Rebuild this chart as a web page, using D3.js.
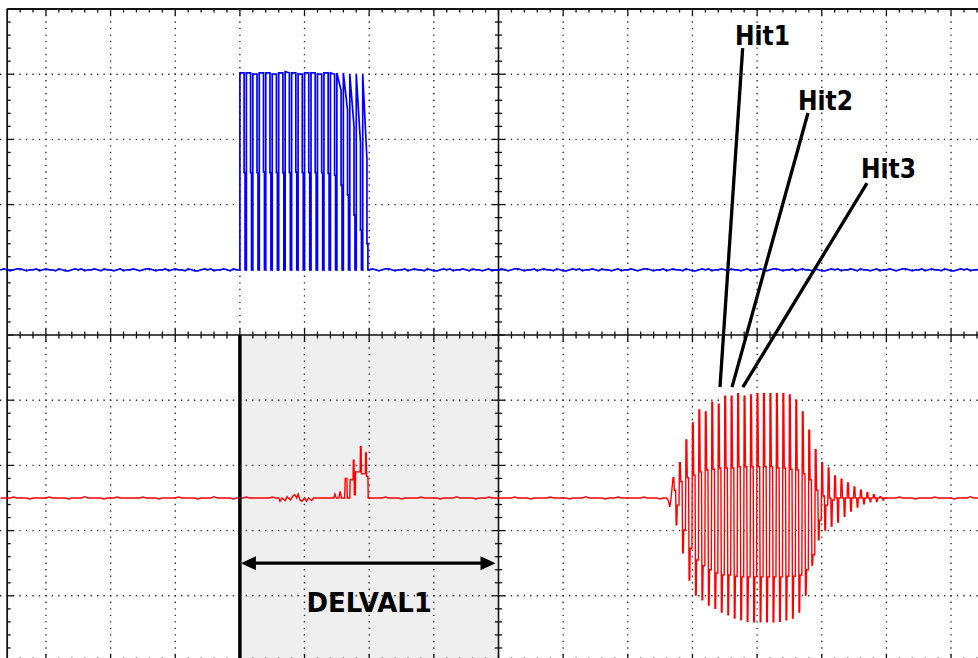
<!DOCTYPE html>
<html>
<head>
<meta charset="utf-8">
<script src="https://cdn.jsdelivr.net/npm/d3@7"></script>
<style>
body { margin: 0; background: #fff; }
</style>
</head>
<body>
<div id="chart"></div>
<script>
// Scope screen, everything in divisions (time horizontally, volts/div vertically)

// --- data

// channel 1 (blue): burst of pulses
var blueOffset = 1.0
var blueBurstStart = -4.0
var pulsePeriod = 0.1
var bluePulseTop  = [3.02, 3.02, 3.0, 3.02, 3.02, 3.0, 3.02, 3.04, 3.02, 3.0, 3.02, 3.02, 3.0, 3.02, 3.02, 3.02, 3.02, 3.0, 3.0, 3.0]
var bluePulseFall = [3.02, 3.02, 3.0, 3.02, 3.02, 3.0, 3.02, 3.02, 3.02, 3.0, 3.02, 3.02, 3.0, 3.02, 3.0, 2.75, 2.45, 2.2, 1.95, 1.7]
var bluePulseMid  = [1.49, 1.49, 1.49, 1.5, 1.49, 1.49, 1.49, 1.49, 1.5, 1.49, 1.49, 1.49, 1.49, 1.48, 1.45, 1.3, 1.15, 0.84, 0.61, 0.4]
var blueNoise = [0, 0.015, 0, -0.015, 0, 0.015, 0.015, 0, -0.015, 0, 0, 0.015, -0.015, 0, 0.015, 0, 0, -0.015, 0.015, 0,
                 -0.015, -0.015, 0, 0.015, 0, 0.015, -0.015, 0, 0, 0.015, 0, -0.015, 0.015, 0, 0, -0.015, 0, 0.015, -0.015, 0]

// channel 2 (red): echo burst, one entry per carrier cycle
var redOffset = -2.5
var redBurstStart = 2.70
var redTop      = [0.31, 0.54, 0.89, 1.15, 1.35, 1.32, 1.47, 1.44, 1.56, 1.56, 1.6, 1.56, 1.58, 1.6, 1.6, 1.6, 1.6, 1.6, 1.58, 1.5,
                   1.32, 1.04, 0.74, 0.54, 0.46, 0.34, 0.29, 0.23, 0.17, 0.12, 0.08, 0.05, 0.02]
var redInnerTop = [0.12, 0.25, 0.31, 0.35, 0.4, 0.43, 0.44, 0.46, 0.46, 0.46, 0.48, 0.48, 0.48, 0.48, 0.48, 0.48, 0.46, 0.46, 0.44, 0.43,
                   0.37, 0.28, 0.12, 0.03, 0, 0, 0, 0, 0, 0, 0, 0, 0]
var redBottom   = [-0.41, -0.84, -1.26, -1.49, -1.56, -1.64, -1.69, -1.75, -1.79, -1.84, -1.87, -1.89, -1.9, -1.9, -1.9, -1.9, -1.89, -1.87, -1.84, -1.75,
                   -1.49, -1.03, -0.64, -0.49, -0.43, -0.37, -0.28, -0.2, -0.14, -0.09, -0.06, -0.05, -0.03]
var redInnerBottom = [-0.11, -0.49, -0.77, -0.95, -1.04, -1.1, -1.15, -1.18, -1.18, -1.2, -1.21, -1.21, -1.21, -1.21, -1.21, -1.21, -1.21, -1.2, -1.2, -1.18,
                      -1.1, -0.87, -0.34, -0.11, -0.03, 0, 0, 0, 0, 0, 0, 0, 0]
// small response inside the DELVAL window (time, level)
var redSmallT = [-3.45, -3.4, -3.38, -3.35, -3.3, -3.27, -3.22, -3.18, -3.15, -3.12, -3.1, -3.07, -3.04, -3.0, -2.97, -2.94, -2.89, -2.86,
                 -2.55, -2.53, -2.51, -2.47, -2.45, -2.43, -2.38, -2.37, -2.345, -2.34, -2.3, -2.295, -2.25, -2.245, -2.235, -2.23,
                 -2.215, -2.21, -2.14, -2.135, -2.125, -2.12, -2.06, -2.055, -2.045, -2.04, -2.02, -2.015, -2.0]
var redSmallV = [0, 0, -0.05, 0, -0.04, 0.02, -0.03, 0.03, 0.05, 0, 0.06, -0.03, -0.05, 0, -0.05, 0, -0.04, 0,
                 0, 0.06, 0, 0, 0.1, 0, 0, 0.3, 0.3, 0, 0, 0.28, 0.28, 0.58, 0.58, 0.05,
                 0.05, 0.4, 0.4, 0.79, 0.79, 0.37, 0.37, 0.69, 0.69, 0.33, 0.33, 0, 0]
var redLeadT = [2.60, 2.63, 2.65, 2.67]
var redLeadV = [0, -0.05, -0.14, 0]
var redNoise = [0, 0, 0, 0, 0.015, 0, 0, 0, 0, -0.015, 0, 0, 0, 0, 0, 0.015, 0, 0, 0, 0,
                0, -0.015, 0, 0, 0, 0, 0.02, 0, 0, 0, 0, 0, -0.015, 0, 0, 0, 0.015, 0, 0, 0]

// annotations
var delvalStart = -4, delvalEnd = 0
var delvalLabel = 'DELVAL1'
var hitLabels = ['Hit1', 'Hit2', 'Hit3']
var hitLabelT = [3.658, 4.633, 5.607]
var hitLabelV = [4.45, 3.45, 2.41]
var hitFromT  = [3.777, 4.787, 5.70]
var hitFromV  = [4.40, 3.405, 2.33]
var hitToT    = [3.426, 3.612, 3.78]
var hitToV    = [-0.80, -0.80, -0.80]

// --- settings
var W = 978, H = 658
var divX = 64.65, divY = 65.2
var cx = 498.5, cy = 335
var leftT = -7.6

var x = d3.scaleLinear().domain([-1, 1]).range([cx - divX, cx + divX])
var y = d3.scaleLinear().domain([-1, 1]).range([cy + divY, cy - divY])

var svg = d3.select('#chart').append('svg')
	.attr('width', W)
	.attr('height', H)

svg.append('rect').attr('width', W).attr('height', H).attr('fill', '#fff')

// shaded window
svg.append('rect')
	.attr('x', x(delvalStart))
	.attr('y', y(0))
	.attr('width', x(delvalEnd) - x(delvalStart))
	.attr('height', y(-5) - y(0))
	.attr('fill', '#efefef')

// dotted grid
var gridT = d3.range(-7, 8).filter(function(d){ return d !== 0 })
var gridV = d3.range(-4, 5).filter(function(d){ return d !== 0 })
var dotX = divX / 10, dotY = divY / 10

svg.append('g').selectAll('line').data(gridV).join('line')
	.attr('x1', x(-8)).attr('x2', W)
	.attr('y1', function(d){ return y(d) }).attr('y2', function(d){ return y(d) })
	.attr('stroke', '#333').attr('stroke-width', 1.4)
	.attr('stroke-dasharray', '1.4 ' + (dotX - 1.4))
	.attr('stroke-dashoffset', 0.7)

svg.append('g').selectAll('line').data(gridT).join('line')
	.attr('x1', function(d){ return x(d) }).attr('x2', function(d){ return x(d) })
	.attr('y1', y(5)).attr('y2', y(-5))
	.attr('stroke', '#333').attr('stroke-width', 1.4)
	.attr('stroke-dasharray', '1.4 ' + (dotY - 1.4))
	.attr('stroke-dashoffset', 0.7)

// axes and ticks
var tickT = d3.range(-38, 39).map(function(k){ return k * 0.2 })
var tickV = d3.range(-25, 26).map(function(k){ return k * 0.2 })
function isMajor(d){ return Math.abs(d - Math.round(d)) < 1e-6 }
function tlen(d){ return isMajor(d) ? 6.5 : 3.5 }

var axes = svg.append('g').attr('stroke', '#111')

// frame lines
axes.append('line').attr('x1', x(leftT)).attr('x2', W).attr('y1', y(5)).attr('y2', y(5)).attr('stroke-width', 1.8)
axes.append('line').attr('x1', x(leftT)).attr('x2', W).attr('y1', y(-5)).attr('y2', y(-5)).attr('stroke-width', 1.8)
axes.append('line').attr('x1', x(leftT)).attr('x2', x(leftT)).attr('y1', y(5)).attr('y2', y(-5)).attr('stroke-width', 1.8)
// centre cross
axes.append('line').attr('x1', x(leftT)).attr('x2', W).attr('y1', y(0)).attr('y2', y(0)).attr('stroke-width', 1.6)
axes.append('line').attr('x1', x(0)).attr('x2', x(0)).attr('y1', y(5)).attr('y2', y(-5)).attr('stroke-width', 1.6)

var ticksTop = tickT.filter(function(d){ return d >= leftT })
axes.append('g').selectAll('line').data(ticksTop).join('line')
	.attr('x1', function(d){ return x(d) }).attr('x2', function(d){ return x(d) })
	.attr('y1', y(5)).attr('y2', function(d){ return y(5) + tlen(d) })
	.attr('stroke-width', 1.3)
axes.append('g').selectAll('line').data(ticksTop).join('line')
	.attr('x1', function(d){ return x(d) }).attr('x2', function(d){ return x(d) })
	.attr('y1', y(-5)).attr('y2', function(d){ return y(-5) - tlen(d) })
	.attr('stroke-width', 1.3)
axes.append('g').selectAll('line').data(ticksTop).join('line')
	.attr('x1', function(d){ return x(d) }).attr('x2', function(d){ return x(d) })
	.attr('y1', function(d){ return y(0) - tlen(d) }).attr('y2', function(d){ return y(0) + tlen(d) })
	.attr('stroke-width', 1.3)
axes.append('g').selectAll('line').data(tickV).join('line')
	.attr('y1', function(d){ return y(d) }).attr('y2', function(d){ return y(d) })
	.attr('x1', x(leftT)).attr('x2', function(d){ return x(leftT) + tlen(d) })
	.attr('stroke-width', 1.3)
axes.append('g').selectAll('line').data(tickV).join('line')
	.attr('y1', function(d){ return y(d) }).attr('y2', function(d){ return y(d) })
	.attr('x1', function(d){ return x(0) - tlen(d) }).attr('x2', function(d){ return x(0) + tlen(d) })
	.attr('stroke-width', 1.3)

// --- traces
var line = d3.line()
	.x(function(d){ return x(d[0]) })
	.y(function(d){ return y(d[1]) })

function noiseRun(pts, t0, t1, offset, noise, step){
	var n = Math.round((t1 - t0) / step)
	for (var k = 0; k < n; k++) {
		pts.push([t0 + k * step, offset + noise[k % noise.length]])
	}
}

// blue
var bluePts = []
noiseRun(bluePts, -7.7, blueBurstStart, blueOffset, blueNoise, 0.05)
bluePulseTop.forEach(function(top, i){
	var ts = blueBurstStart + i * pulsePeriod
	bluePts.push(
		[ts, blueOffset],
		[ts, blueOffset + top],
		[ts + 0.065, blueOffset + bluePulseFall[i]],
		[ts + 0.065, blueOffset + bluePulseMid[i]],
		[ts + 0.08, blueOffset + bluePulseMid[i]],
		[ts + 0.08, blueOffset]
	)
})
noiseRun(bluePts, blueBurstStart + bluePulseTop.length * pulsePeriod, 7.7, blueOffset, blueNoise, 0.05)

svg.append('path')
	.attr('d', line(bluePts))
	.attr('fill', 'none')
	.attr('stroke', '#0000ff')
	.attr('stroke-width', 1.7)

// red
var redPts = []
noiseRun(redPts, -7.7, redSmallT[0], redOffset, redNoise, 0.05)
redSmallT.forEach(function(t, i){ redPts.push([t, redOffset + redSmallV[i]]) })
noiseRun(redPts, -1.95, redLeadT[0], redOffset, redNoise, 0.05)
redLeadT.forEach(function(t, i){ redPts.push([t, redOffset + redLeadV[i]]) })
redTop.forEach(function(top, i){
	var tc = redBurstStart + i * pulsePeriod
	redPts.push(
		[tc, redOffset + top],
		[tc + 0.012, redOffset + top],
		[tc + 0.02, redOffset + redInnerTop[i]],
		[tc + 0.04, redOffset + redInnerTop[i]],
		[tc + 0.048, redOffset + redBottom[i]],
		[tc + 0.058, redOffset + redBottom[i]],
		[tc + 0.065, redOffset + redInnerBottom[i]],
		[tc + 0.092, redOffset + redInnerBottom[i]]
	)
})
noiseRun(redPts, redBurstStart + redTop.length * pulsePeriod, 7.7, redOffset, redNoise, 0.05)

svg.append('path')
	.attr('d', line(redPts))
	.attr('fill', 'none')
	.attr('stroke', '#ff0000')
	.attr('stroke-width', 1.4)

// --- annotations
svg.append('line')
	.attr('x1', x(delvalStart)).attr('x2', x(delvalStart))
	.attr('y1', y(0)).attr('y2', y(-5))
	.attr('stroke', '#000').attr('stroke-width', 3.5)

var arrowV = -3.5
var ax1 = x(delvalStart) + 1, ax2 = x(delvalEnd) - 3, ay = y(arrowV)
svg.append('line')
	.attr('x1', ax1 + 8).attr('x2', ax2 - 8)
	.attr('y1', ay).attr('y2', ay)
	.attr('stroke', '#000').attr('stroke-width', 3.3)
svg.append('path')
	.attr('d', 'M' + ax1 + ',' + ay + 'L' + (ax1 + 15) + ',' + (ay - 7) + 'L' + (ax1 + 15) + ',' + (ay + 7) + 'Z')
	.attr('fill', '#000')
svg.append('path')
	.attr('d', 'M' + ax2 + ',' + ay + 'L' + (ax2 - 15) + ',' + (ay - 7) + 'L' + (ax2 - 15) + ',' + (ay + 7) + 'Z')
	.attr('fill', '#000')

svg.append('text')
	.attr('x', x((delvalStart + delvalEnd) / 2))
	.attr('y', y(-4.25))
	.attr('text-anchor', 'middle')
	.attr('font-family', 'DejaVu Sans, sans-serif')
	.attr('font-weight', 'bold')
	.attr('font-size', 26)
	.attr('fill', '#000')
	.text(delvalLabel)

hitLabels.forEach(function(label, i){
	svg.append('line')
		.attr('x1', x(hitFromT[i])).attr('y1', y(hitFromV[i]))
		.attr('x2', x(hitToT[i])).attr('y2', y(hitToV[i]))
		.attr('stroke', '#000').attr('stroke-width', 3.3)
	svg.append('text')
		.attr('x', x(hitLabelT[i]))
		.attr('y', y(hitLabelV[i]))
		.attr('font-family', 'DejaVu Sans Condensed, DejaVu Sans, sans-serif')
		.attr('font-weight', 'bold')
		.attr('font-size', 26)
		.attr('fill', '#000')
		.text(label)
})
</script>
</body>
</html>
